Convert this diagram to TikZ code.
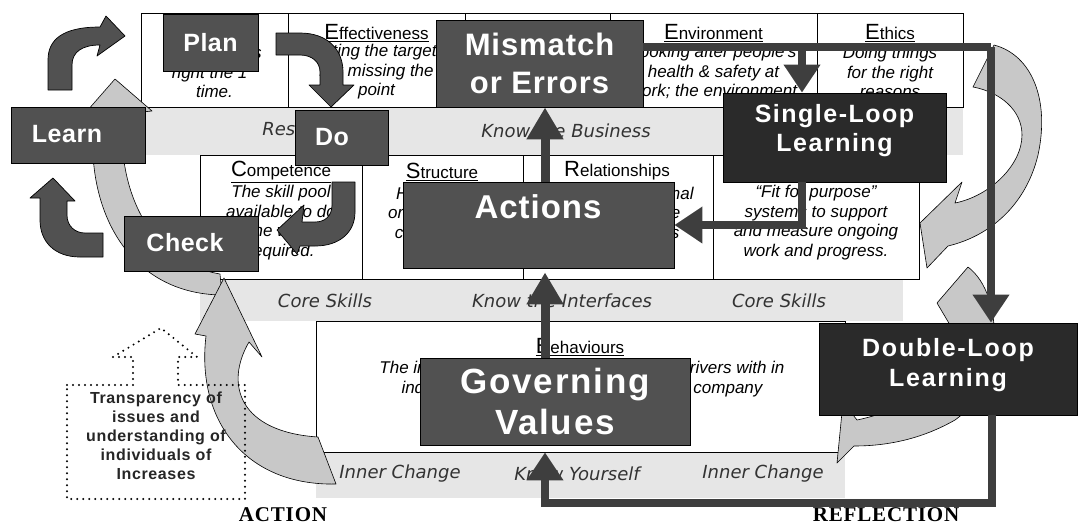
\documentclass[tikz,border=0pt]{standalone}
\usepackage{fontspec}
\setmainfont{Liberation Sans}
\newfontfamily\bandfont{DejaVu Sans}
\newfontfamily\capsfont{Liberation Serif}
\usetikzlibrary{arrows.meta,calc}

\definecolor{boxgray}{HTML}{515151}
\definecolor{boxdark}{HTML}{2A2A2A}
\definecolor{bandgray}{HTML}{E6E6E6}
\definecolor{swirl}{HTML}{C8C8C8}
\definecolor{linkgray}{HTML}{3E3E3E}

% underlined cell heading with an enlarged first letter
\newcommand{\cellhead}[2]{\underline{{\fontsize{22}{22}\selectfont #1}#2}}

\begin{document}
\begin{tikzpicture}[x=1pt,y=-1pt,
  darkbox/.style={draw=black, line width=0.8pt, fill=boxgray, text=white, inner sep=0pt,
    align=center, font=\fontsize{25}{29}\selectfont\bfseries\addfontfeatures{LetterSpace=2}},
  blackbox/.style={darkbox, fill=boxdark},
  boxtext/.style={text=white, align=center, inner sep=0pt},
  band/.style={fill=bandgray, draw=none},
  bandtext/.style={font=\fontsize{18}{20}\selectfont\bandfont\itshape, text=black!80},
  grid/.style={draw=black, line width=0.7pt, fill=white},
  head/.style={font=\fontsize{17}{20}\selectfont, inner sep=0pt},
  body/.style={font=\fontsize{17}{19.5}\selectfont\itshape, align=center, inner sep=0pt},
  pdca/.style={fill=boxgray, draw=black, line width=0.7pt, line join=round},
  swirlarrow/.style={fill=swirl, draw=black, line width=0.6pt, line join=round},
  link/.style={draw=linkgray, line width=9pt,
    -{Triangle[width=35pt,length=32pt]}},
  loopline/.style={draw=linkgray, line width=8pt,
    -{Triangle[width=35pt,length=28pt]}},
  dotbox/.style={draw=black, line width=2.2pt, line cap=round, dash pattern=on 0pt off 6pt},
  caption/.style={inner sep=0pt, font=\fontsize{21}{22}\selectfont\capsfont\bfseries\addfontfeatures{LetterSpace=4}}
]
\useasboundingbox (0,0) rectangle (1079,523);
\fill[white] (0,0) rectangle (1079,523);

% ---------- shaded bands ----------
\fill[band] (141,107) rectangle (963,155);
\fill[band] (200,279) rectangle (903,321);
\fill[band] (316,452) rectangle (845,498);

\node[bandtext] (b1a) at (325,131) {Responsibility};
\node[bandtext] (b1b) at (566,131) {Know the Business};
\node[bandtext] (b2a) at (325,301) {Core Skills};
\node[bandtext] (b2b) at (562,301) {Know the Interfaces};
\node[bandtext] (b2c) at (779,301) {Core Skills};
\node[bandtext] (b3a) at (400,474) {Inner Change};
\node[bandtext] (b3b) at (577,474) {Know Yourself};
\node[bandtext] (b3c) at (763,474) {Inner Change};

% ---------- top row ----------
\draw[grid] (141,13) rectangle (963,107);
\draw[black, line width=0.7pt] (288,13) -- (288,107) (465,13) -- (465,107)
  (610,13) -- (610,107) (817,13) -- (817,107);
\node[body] (t1) at (214.5,72) {Doing things\\right the 1\textsuperscript{st}\\time.};
\node[head] (h2) at (376.5,33) {\cellhead{E}{ffectiveness}};
\node[body] (t2) at (376.5,72) {Hitting the target,\\not missing the\\point};
\node[head] (h4) at (713.5,33) {\cellhead{E}{nvironment}};
\node[body] (t4) at (713.5,72) {Looking after people's\\health \& safety at\\work; the environment};
\node[head] (h5) at (890,33) {\cellhead{E}{thics}};
\node[body] (t5) at (890,72) {Doing things\\for the right\\reasons};

% ---------- middle row ----------
\draw[grid] (200,155) rectangle (919,279);
\draw[black, line width=0.7pt] (362,155) -- (362,279) (523,155) -- (523,279)
  (713,155) -- (713,279);
\node[head] (h6) at (281,172) {\cellhead{C}{ompetence}};
\node[body] (t6) at (281,222.5) {The skill pool\\available to do\\the work\\required.};
\node[head] (h7) at (442,172) {\cellhead{S}{tructure}};
\node[body] (t7) at (442,212.5) {How work is\\organised and\\co-ordinated};
\node[head] (h8) at (617,172) {\cellhead{R}{elationships}};
\node[body] (t8) at (618,212.5) {Formal and informal\\links with people\\communications};
\node[body] (t9) at (816,222.5) {“Fit for purpose”\\systems to support\\and measure ongoing\\work and progress.};

% ---------- bottom row ----------
\draw[grid] (316,321) rectangle (845,452);
\node[head] (h10) at (580,347) {\cellhead{B}{ehaviours}};
\node[body] (t10) at (582,379) {The individual’s beliefs, values and true drivers with in\\individuals, teams and groups within a company};

% ---------- light swirl arrows ----------
\draw[swirlarrow] (115,79) -- (152,111) -- (123,114)
  .. controls (116,190) and (150,262) .. (220,274) -- (222,295)
  .. controls (130,294) and (84,212) .. (94,117) -- (80,119) -- cycle;
\draw[swirlarrow] (224,278) -- (262,357) -- (249,342)
  .. controls (224,385) and (240,432) .. (318,437) -- (336,484)
  .. controls (245,486) and (196,420) .. (206,336) -- (195,334) -- cycle;
\draw[swirlarrow] (994,45) .. controls (1032,55) and (1050,100) .. (1038,155)
  .. controls (1026,205) and (990,236) .. (948,246) -- (927,268) -- (920,223)
  -- (962,182) -- (955,203) .. controls (990,196) and (1022,165) .. (1022,135)
  .. controls (1022,110) and (1000,92) .. (973,87) -- cycle;
\draw[swirlarrow] (968,267) .. controls (1005,295) and (1005,385) .. (955,420)
  .. controls (920,440) and (885,446) .. (854,446) -- (837,463) -- (843,402)
  -- (857,420) .. controls (905,410) and (960,380) .. (953,330) -- (937,303) -- cycle;

% ---------- plan-do-check-learn arrows ----------
\draw[pdca] (48,90) -- (48,60) .. controls (48,40) and (62,27) .. (100,27)
  -- (106,16) -- (125,36) -- (97,56) -- (100,45)
  .. controls (82,45) and (72,52) .. (72,65) -- (72,90) -- cycle;
\draw[pdca] (276,33) -- (300,33) .. controls (328,33) and (343,50) .. (343,72)
  -- (343,85) -- (354,85) -- (331,107) -- (309,85) -- (320,85) -- (320,72)
  .. controls (320,62) and (312,55) .. (300,55) -- (276,55) -- cycle;
\draw[pdca] (332,182) -- (355,182) -- (355,212) .. controls (355,232) and (340,246) .. (315,246)
  -- (300,246) -- (297,254) -- (277,230) -- (304,205) -- (302,222) -- (315,222)
  .. controls (325,222) and (332,216) .. (332,205) -- cycle;
\draw[pdca] (103,233) -- (85,233) .. controls (75,233) and (67,226) .. (67,215)
  -- (67,201) -- (75,201) -- (53,178) -- (30,198) -- (40,198) -- (40,220)
  .. controls (40,242) and (55,257) .. (80,257) -- (103,257) -- cycle;

% ---------- main boxes ----------
\node[darkbox, minimum width=95pt, minimum height=57pt] (plan) at (210.5,42.5) {Plan};
\node[darkbox, minimum width=134pt, minimum height=56pt] (learn) at (78,135) {};
\node[boxtext, font=\fontsize{25}{29}\selectfont\bfseries\addfontfeatures{LetterSpace=2}] (learnt) at (67,134) {Learn};
\node[darkbox, minimum width=93pt, minimum height=55pt] (do) at (341.5,137.5) {};
\node[boxtext, font=\fontsize{25}{29}\selectfont\bfseries\addfontfeatures{LetterSpace=2}] (dot) at (332,137) {Do};
\node[darkbox, minimum width=134pt, minimum height=55pt] (check) at (191,243.5) {};
\node[boxtext, font=\fontsize{25}{29}\selectfont\bfseries\addfontfeatures{LetterSpace=2}] (checkt) at (185,243) {Check};

\node[darkbox, minimum width=207pt, minimum height=87pt,
  font=\fontsize{31}{38}\selectfont\bfseries\addfontfeatures{LetterSpace=3}] (mm) at (539.5,63.5) {Mismatch\\or Errors};
\node[darkbox, minimum width=271pt, minimum height=86pt] (ac) at (538.5,225) {};
\node[boxtext, font=\fontsize{33}{38}\selectfont\bfseries\addfontfeatures{LetterSpace=3}] (act) at (538,207) {Actions};
\node[darkbox, minimum width=270pt, minimum height=87pt,
  font=\fontsize{35}{41}\selectfont\bfseries\addfontfeatures{LetterSpace=5}] (gv) at (555,401.5) {Governing\\Values};
\node[blackbox, minimum width=223pt, minimum height=89pt] (sl) at (834.5,137.5) {};
\node[boxtext, font=\fontsize{25}{29}\selectfont\bfseries\addfontfeatures{LetterSpace=6}] (slt) at (834.5,131) {Single-Loop\\Learning};
\node[blackbox, minimum width=258pt, minimum height=92pt] (dl) at (948,369) {};
\node[boxtext, font=\fontsize{25}{30}\selectfont\bfseries\addfontfeatures{LetterSpace=7}] (dlt) at (948,365) {Double-Loop\\Learning};

% ---------- connectors ----------
\coordinate (spine) at (545,0);
\coordinate (split) at (802,47);
\coordinate (corner) at (991,47);
\coordinate (low) at (992,503);

\draw[link] (ac.north -| spine) -- (mm.south -| spine);
\draw[link, shorten >=4pt] (gv.north -| spine) -- (ac.south -| spine);
\draw[loopline, -] (mm.east |- split) -- (corner);
\draw[loopline] (corner) -- (dl.north -| corner);
\draw[loopline] (split) -- (sl.north -| split);
\draw[loopline] (sl.south -| split) |- (ac.east);
\draw[loopline, shorten >=7pt] (dl.south -| low) -- (low) -| (gv.south -| spine);

% ---------- transparency note ----------
\draw[dotbox] (67,385) -- (133,385) -- (133,357) -- (113,357) -- (161,328)
  -- (197,357) -- (178,357) -- (178,385) -- (245,385) -- (245,499) -- (67,499) -- cycle;
\node[font=\fontsize{16}{19}\selectfont\bfseries\addfontfeatures{LetterSpace=4}, align=center, text=black!85] (note) at (156,435.5)
  {Transparency of\\issues and\\understanding of\\individuals of\\Increases};

% ---------- axis captions ----------
\node[caption, anchor=base] (act1) at (283,521) {ACTION};
\node[caption, anchor=base] (refl) at (886,521) {REFLECTION};
\end{tikzpicture}
\end{document}
